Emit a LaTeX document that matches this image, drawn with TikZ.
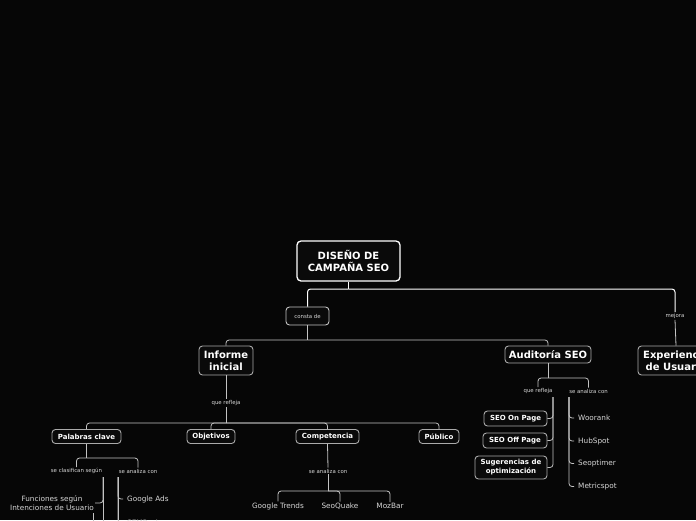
\documentclass[tikz,border=0pt]{standalone}
\usepackage{fontspec}
\setmainfont{DejaVu Sans}
\definecolor{bg}{RGB}{6,6,6}
\definecolor{boxbg}{RGB}{10,10,10}
\definecolor{bord}{RGB}{170,170,170}
\definecolor{lin}{RGB}{195,195,195}
\definecolor{lbl}{RGB}{215,215,215}
\begin{document}
\begin{tikzpicture}[x=1pt,y=-1pt,
  box/.style={draw=bord,line width=0.9pt,fill=boxbg,rounded corners=3.5pt,text=white,align=center,inner sep=0pt},
  big/.style={box,font=\fontsize{10}{12}\selectfont\bfseries},
  mid/.style={box,font=\fontsize{7}{9}\selectfont\bfseries},
  lab/.style={text=lbl,font=\fontsize{5.4}{6.5}\selectfont,inner sep=1pt},
  leaf/.style={text=lbl,font=\fontsize{7.3}{9}\selectfont,inner sep=1pt,align=center},
  rleaf/.style={leaf,anchor=west,inner xsep=4pt},
  conn/.style={draw=lin,line width=0.8pt,rounded corners=3pt},
  topc/.style={draw=white,line width=1pt,rounded corners=3pt}]
\fill[bg] (0,0) rectangle (696,520);
\useasboundingbox (0,0) rectangle (696,520);
\clip (0,0) rectangle (696,520);

% main nodes
\node[big,draw=white,line width=1.3pt,rounded corners=4pt,minimum width=103pt,minimum height=40pt] (root) at (348.5,261) {DISEÑO DE\\CAMPAÑA SEO};
\node[box,draw=lin,text=lbl,font=\fontsize{5.4}{6.5}\selectfont,minimum width=43pt,minimum height=18pt] (consta) at (307.5,316) {consta de};
\node[lab] (mejora) at (675,316) {mejora};
\node[big,minimum width=54pt,minimum height=29pt] (inf) at (226,360.5) {Informe\\inicial};
\node[big,minimum width=86pt,minimum height=17pt] (aud) at (548,354.5) {Auditoría SEO};
\node[big,minimum width=76pt,minimum height=29pt] (exp) at (676,360.5) {Experiencia\\de Usuario};

% Informe inicial branch
\node[lab] (qr1) at (226,403) {que refleja};
\node[mid,minimum width=69pt,minimum height=14pt] (pal) at (86.5,436.5) {Palabras clave};
\node[mid,minimum width=48pt,minimum height=14pt] (obj) at (211,436.5) {Objetivos};
\node[mid,minimum width=63pt,minimum height=14pt] (comp) at (327.5,436.5) {Competencia};
\node[mid,minimum width=40pt,minimum height=14pt] (pub) at (439,436.5) {Público};

\node[lab] (cls) at (76.5,471) {se clasifican según};
\node[lab] (sac1) at (138,471) {se analiza con};
\node[leaf] (fun) at (52,503) {Funciones según\\Intenciones de Usuario};
\node[rleaf] (ga) at (123,499) {Google Ads};
\node[rleaf] (sem) at (123,522.5) {SEMRush};

\node[lab] (sac3) at (328,471) {se analiza con};
\node[leaf] (gt) at (278,506) {Google Trends};
\node[leaf] (sq) at (340,506) {SeoQuake};
\node[leaf] (mb) at (390,506) {MozBar};

% Auditoria branch
\node[lab] (qr2) at (538,391) {que refleja};
\node[lab] (sac2) at (588.5,391) {se analiza con};
\node[mid,minimum width=63pt,minimum height=15pt] (seoon) at (515.5,418.5) {SEO On Page};
\node[mid,minimum width=64pt,minimum height=15pt] (seooff) at (515,440.5) {SEO Off Page};
\node[mid,minimum width=72pt,minimum height=23pt] (sug) at (511,467.5) {Sugerencias de\\optimización};
\node[rleaf] (woo) at (574,418) {Woorank};
\node[rleaf] (hub) at (574,441) {HubSpot};
\node[rleaf] (seopt) at (574,463.5) {Seoptimer};
\node[rleaf] (met) at (574,486.5) {Metricspot};

% junctions and trunks
\coordinate (j0) at (348.5,289);
\coordinate (j1) at (307.5,340);
\coordinate (j2) at (226,423);
\coordinate (j3) at (548,378);
\coordinate (j4) at (86.5,458);
\coordinate (j5) at (328,491);
\coordinate (t1) at (103,477);
\coordinate (t1e) at (103,540);
\coordinate (t2) at (118,477);
\coordinate (t2e) at (118,540);
\coordinate (t3) at (93,513);
\coordinate (t3e) at (93,540);
\coordinate (t4) at (553,397);
\coordinate (t5) at (569,397);

% connectors
\draw[topc] (root.south) -- (j0);
\draw[topc] (j0) -| (consta.north);
\draw[topc] (j0) -| (mejora.north);
\draw[conn] (mejora.south) -- (exp.north);

\draw[conn] (consta.south) -- (j1);
\draw[conn] (j1) -| (inf.north);
\draw[conn] (j1) -| (aud.north);

\draw[conn] (inf.south) -- (qr1.north);
\draw[conn] (qr1.south) -- (j2);
\draw[conn] (j2) -| (pal.north);
\draw[conn] (j2) -| (obj.north);
\draw[conn] (j2) -| (comp.north);
\draw[conn] (j2) -| (pub.north);

\draw[conn] (pal.south) -- (j4);
\draw[conn] (j4) -| (cls.north);
\draw[conn] (j4) -| (sac1.north);
\draw[conn] (t1) -- (t1e);
\draw[conn] (t1) |- (fun.east);
\draw[conn] (t3) -- (t3e);
\draw[conn] (t2) -- (t2e);
\draw[conn] (t2) |- (ga.west);
\draw[conn] (t2) |- (sem.west);

\draw[conn] (comp.south) -- (sac3.north);
\draw[conn] (sac3.south) -- (j5);
\draw[conn] (j5) -| (gt.north);
\draw[conn] (j5) -| (sq.north);
\draw[conn] (j5) -| (mb.north);

\draw[conn] (aud.south) -- (j3);
\draw[conn] (j3) -| (qr2.north);
\draw[conn] (j3) -| (sac2.north);
\draw[conn] (t4) |- (seoon.east);
\draw[conn] (t4) |- (seooff.east);
\draw[conn] (t4) |- (sug.east);
\draw[conn] (t5) |- (woo.west);
\draw[conn] (t5) |- (hub.west);
\draw[conn] (t5) |- (seopt.west);
\draw[conn] (t5) |- (met.west);
\end{tikzpicture}
\end{document}
